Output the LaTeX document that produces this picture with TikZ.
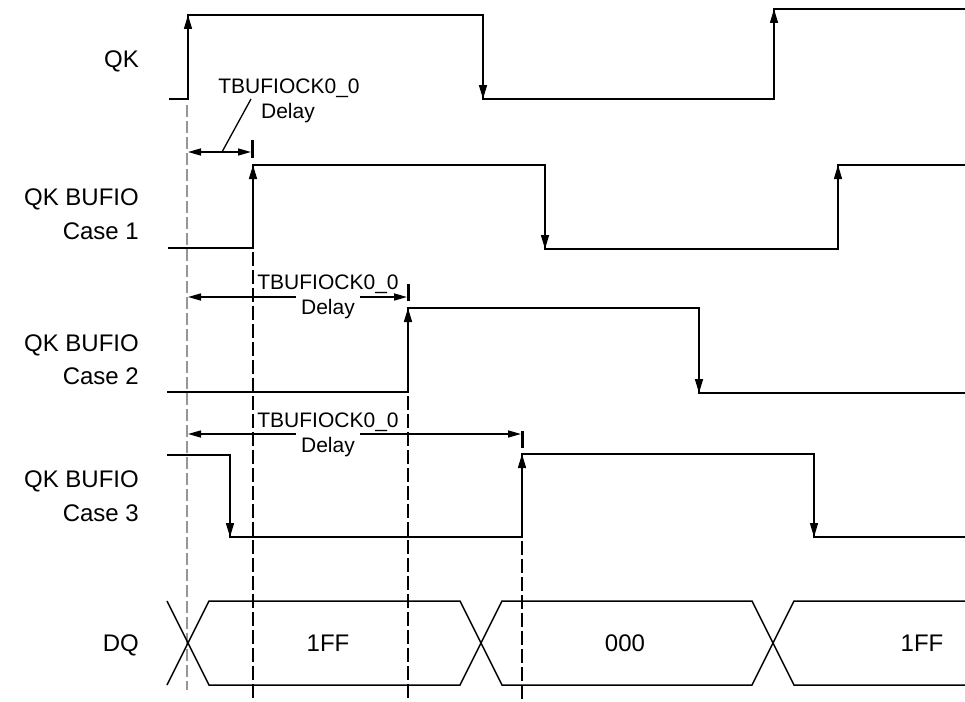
\documentclass[tikz,border=0pt]{standalone}
\usepackage{fontspec}
\setmainfont{Liberation Sans}
\usetikzlibrary{arrows.meta}
\definecolor{refgray}{RGB}{150,150,150}
\begin{document}
\begin{tikzpicture}[x=1pt,y=-1pt,
  sig/.style={line width=1.5pt, line join=miter},
  edge/.style={line width=1.5pt,-{Triangle[length=14pt,width=8pt]}},
  dim/.style={line width=1.5pt,{Triangle[length=13pt,width=7pt]}-{Triangle[length=13pt,width=7pt]}},
  leader/.style={line width=1.3pt},
  tick/.style={line width=3pt},
  refline/.style={line width=2.8pt, dash pattern=on 14pt off 4pt},
  grayline/.style={line width=2.6pt, draw=refgray, dash pattern=on 12pt off 4pt},
  lbl/.style={font=\fontsize{24}{28}\selectfont, anchor=base east, inner sep=0pt},
  val/.style={font=\fontsize{24}{28}\selectfont, anchor=base, inner sep=0pt},
  dl/.style={font=\fontsize{21}{25}\selectfont, anchor=base, inner sep=0pt},
  dlw/.style={dl, fill=white, inner xsep=5pt, inner ysep=5pt}
]
\useasboundingbox (0,0) rectangle (965,701);

% reference lines
\coordinate (g0) at (187,105); \coordinate (g1) at (187,690);
\draw[grayline] (g0) -- (g1);
\coordinate (r1a) at (253,252); \coordinate (r1b) at (253,701);
\coordinate (r2a) at (408,396); \coordinate (r2b) at (408,701);
\coordinate (r3a) at (522,541); \coordinate (r3b) at (522,701);
\draw[refline] (r1a) -- (r1b);
\draw[refline] (r2a) -- (r2b);
\draw[refline] (r3a) -- (r3b);

% QK
\coordinate (qk0) at (169,99); \coordinate (qk1) at (188,99);
\coordinate (qk2) at (188,15); \coordinate (qk3) at (483,15);
\coordinate (qk4) at (483,99); \coordinate (qk5) at (774,99);
\coordinate (qk6) at (774,9); \coordinate (qk7) at (965,9);
\draw[sig] (qk0)--(qk1)--(qk2)--(qk3)--(qk4)--(qk5)--(qk6)--(qk7);
\draw[edge] (qk1)--(qk2); \draw[edge] (qk3)--(qk4); \draw[edge] (qk5)--(qk6);

% Case 1
\coordinate (a0) at (168,248); \coordinate (a1) at (253,248);
\coordinate (a2) at (253,165); \coordinate (a3) at (545,165);
\coordinate (a4) at (545,249); \coordinate (a5) at (838,249);
\coordinate (a6) at (838,165); \coordinate (a7) at (965,165);
\draw[sig] (a0)--(a1)--(a2)--(a3)--(a4)--(a5)--(a6)--(a7);
\draw[edge] (a1)--(a2); \draw[edge] (a3)--(a4); \draw[edge] (a5)--(a6);

% Case 2
\coordinate (b0) at (167,392); \coordinate (b1) at (408,392);
\coordinate (b2) at (408,308); \coordinate (b3) at (699,308);
\coordinate (b4) at (699,393); \coordinate (b5) at (965,393);
\draw[sig] (b0)--(b1)--(b2)--(b3)--(b4)--(b5);
\draw[edge] (b1)--(b2); \draw[edge] (b3)--(b4);

% Case 3
\coordinate (c0) at (167,455); \coordinate (c1) at (230,455);
\coordinate (c2) at (230,537); \coordinate (c3) at (522,537);
\coordinate (c4) at (522,454); \coordinate (c5) at (814,454);
\coordinate (c6) at (814,537); \coordinate (c7) at (965,537);
\draw[sig] (c0)--(c1)--(c2)--(c3)--(c4)--(c5)--(c6)--(c7);
\draw[edge] (c1)--(c2); \draw[edge] (c3)--(c4); \draw[edge] (c5)--(c6);

% DQ bus
\coordinate (x0t) at (167,601); \coordinate (x0b) at (167,685);
\coordinate (x1t) at (209,601); \coordinate (x1b) at (209,685);
\coordinate (x2t) at (460,601); \coordinate (x2b) at (460,685);
\coordinate (x3t) at (502,601); \coordinate (x3b) at (502,685);
\coordinate (x4t) at (752,601); \coordinate (x4b) at (752,685);
\coordinate (x5t) at (794,601); \coordinate (x5b) at (794,685);
\coordinate (x6t) at (965,601); \coordinate (x6b) at (965,685);
\draw[sig] (x0t)--(x1b)--(x2b)--(x3t)--(x4t)--(x5b)--(x6b);
\draw[sig] (x0b)--(x1t)--(x2t)--(x3b)--(x4b)--(x5t)--(x6t);

% Delay 1
\coordinate (d1s) at (188,152); \coordinate (d1e) at (251,152);
\draw[dim] (d1s)--(d1e);
\coordinate (t1a) at (252,140); \coordinate (t1b) at (252,158);
\draw[tick] (t1a)--(t1b);
\coordinate (ld1) at (222,152); \coordinate (ld2) at (251,99);
\draw[leader] (ld1)--(ld2);
\node[dl] (n1a) at (289,93) {TBUFIOCK0\_0};
\node[dl] (n1b) at (288,118) {Delay};

% Delay 2
\coordinate (d2s) at (188,297); \coordinate (d2e) at (407,297);
\draw[dim] (d2s)--(d2e);
\coordinate (t2a) at (408,284); \coordinate (t2b) at (408,301);
\draw[tick] (t2a)--(t2b);
\node[dlw] (n2b) at (328,314) {Delay};
\node[dl] (n2a) at (328,289) {TBUFIOCK0\_0};

% Delay 3
\coordinate (d3s) at (188,434); \coordinate (d3e) at (521,434);
\draw[dim] (d3s)--(d3e);
\coordinate (t3a) at (522,431); \coordinate (t3b) at (522,448);
\draw[tick] (t3a)--(t3b);
\node[dlw] (n3b) at (328,452) {Delay};
\node[dl] (n3a) at (328,427) {TBUFIOCK0\_0};

% left labels
\node[lbl] (lqk) at (139,67) {QK};
\node[lbl] (l1a) at (139,205) {QK BUFIO};
\node[lbl] (l1b) at (139,239) {Case 1};
\node[lbl] (l2a) at (139,351) {QK BUFIO};
\node[lbl] (l2b) at (139,384) {Case 2};
\node[lbl] (l3a) at (139,487) {QK BUFIO};
\node[lbl] (l3b) at (139,521) {Case 3};
\node[lbl] (ldq) at (139,651) {DQ};

% bus values
\node[val] (v1) at (328,651) {1FF};
\node[val] (v2) at (625,651) {000};
\node[val] (v3) at (922,651) {1FF};
\end{tikzpicture}
\end{document}
